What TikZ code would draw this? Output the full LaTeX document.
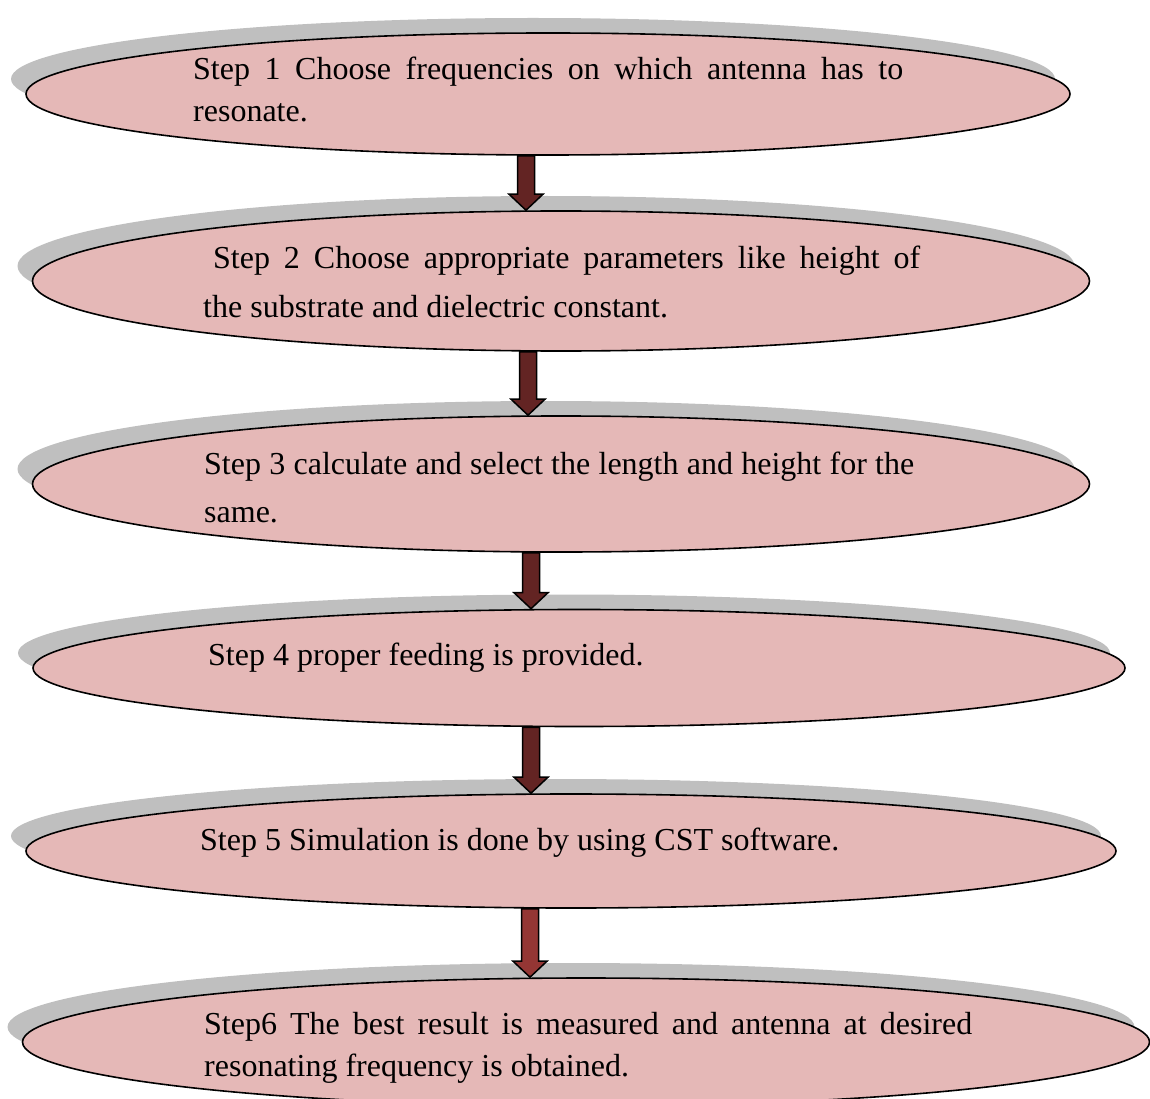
\documentclass[tikz,border=0pt]{standalone}
\usepackage{fontspec}
\setmainfont{Liberation Serif}
\usetikzlibrary{shapes.geometric,shadows,calc}
\definecolor{stepfill}{HTML}{E5B8B7}
\definecolor{stepshade}{HTML}{BFBFBF}
\definecolor{arrowdark}{HTML}{632423}
\definecolor{arrowred}{HTML}{943634}
\hyphenpenalty=10000
\tolerance=10000
\tikzset{
  stepbox/.style={ellipse, draw, line width=1.6pt, fill=stepfill, inner sep=0pt,
    general shadow={fill=stepshade, shadow xshift=-15pt, shadow yshift=15pt}},
  steptext/.style={anchor=base west, inner sep=0pt, align=justify,
    font=\fontsize{32}{#1}\selectfont},
  steptext/.default=42,
  flowarrow/.style={draw, line width=1.5pt, line join=miter}
}

\begin{document}
\begin{tikzpicture}[x=1pt,y=-1pt]
\useasboundingbox (0,0) rectangle (1150,1099);
\node[stepbox, minimum width=1044pt, minimum height=122pt] (s1) at (548,94) {};
\node[stepbox, minimum width=1057pt, minimum height=140pt] (s2) at (561,281) {};
\node[stepbox, minimum width=1057pt, minimum height=136pt] (s3) at (561,484) {};
\node[stepbox, minimum width=1092pt, minimum height=117pt] (s4) at (579,668) {};
\node[stepbox, minimum width=1090pt, minimum height=114pt] (s5) at (571,851) {};
\node[stepbox, minimum width=1127pt, minimum height=128pt] (s6) at (586,1042) {};
\foreach \a/\b/\c/\col in {s1/s2/526/arrowdark, s2/s3/528/arrowdark, s3/s4/531/arrowdark, s4/s5/531/arrowdark, s5/s6/530/arrowred}
    \draw[flowarrow, fill=\col] let \p1=(\a.south), \p2=(\b.north) in
      (\c pt-8.5pt,\y1) -- (\c pt-8.5pt,\y2+16pt) -- (\c pt-17pt,\y2+16pt) -- (\c pt,\y2)
      -- (\c pt+17pt,\y2+16pt) -- (\c pt+8.5pt,\y2+16pt) -- (\c pt+8.5pt,\y1) -- cycle;
\node[steptext, text width=710pt] (t1) at (193,80) {Step 1 Choose frequencies on which antenna has to resonate.};
\node[steptext=48, text width=717pt] (t2) at (203,269) {\hspace*{10pt}Step 2 Choose appropriate parameters like height of\linebreak the substrate and dielectric constant.};
\node[steptext=48, text width=710pt] (t3) at (204,474) {Step 3 calculate and select the length and height for the same.};
\node[steptext, text width=710pt] (t4) at (208,665) {Step 4 proper feeding is provided.};
\node[steptext, text width=710pt] (t5) at (200,850) {Step 5 Simulation is done by using CST software.};
\node[steptext, text width=768pt] (t6) at (204,1034) {Step6 The best result is measured and antenna at desired resonating frequency is obtained.};
\end{tikzpicture}
\end{document}
